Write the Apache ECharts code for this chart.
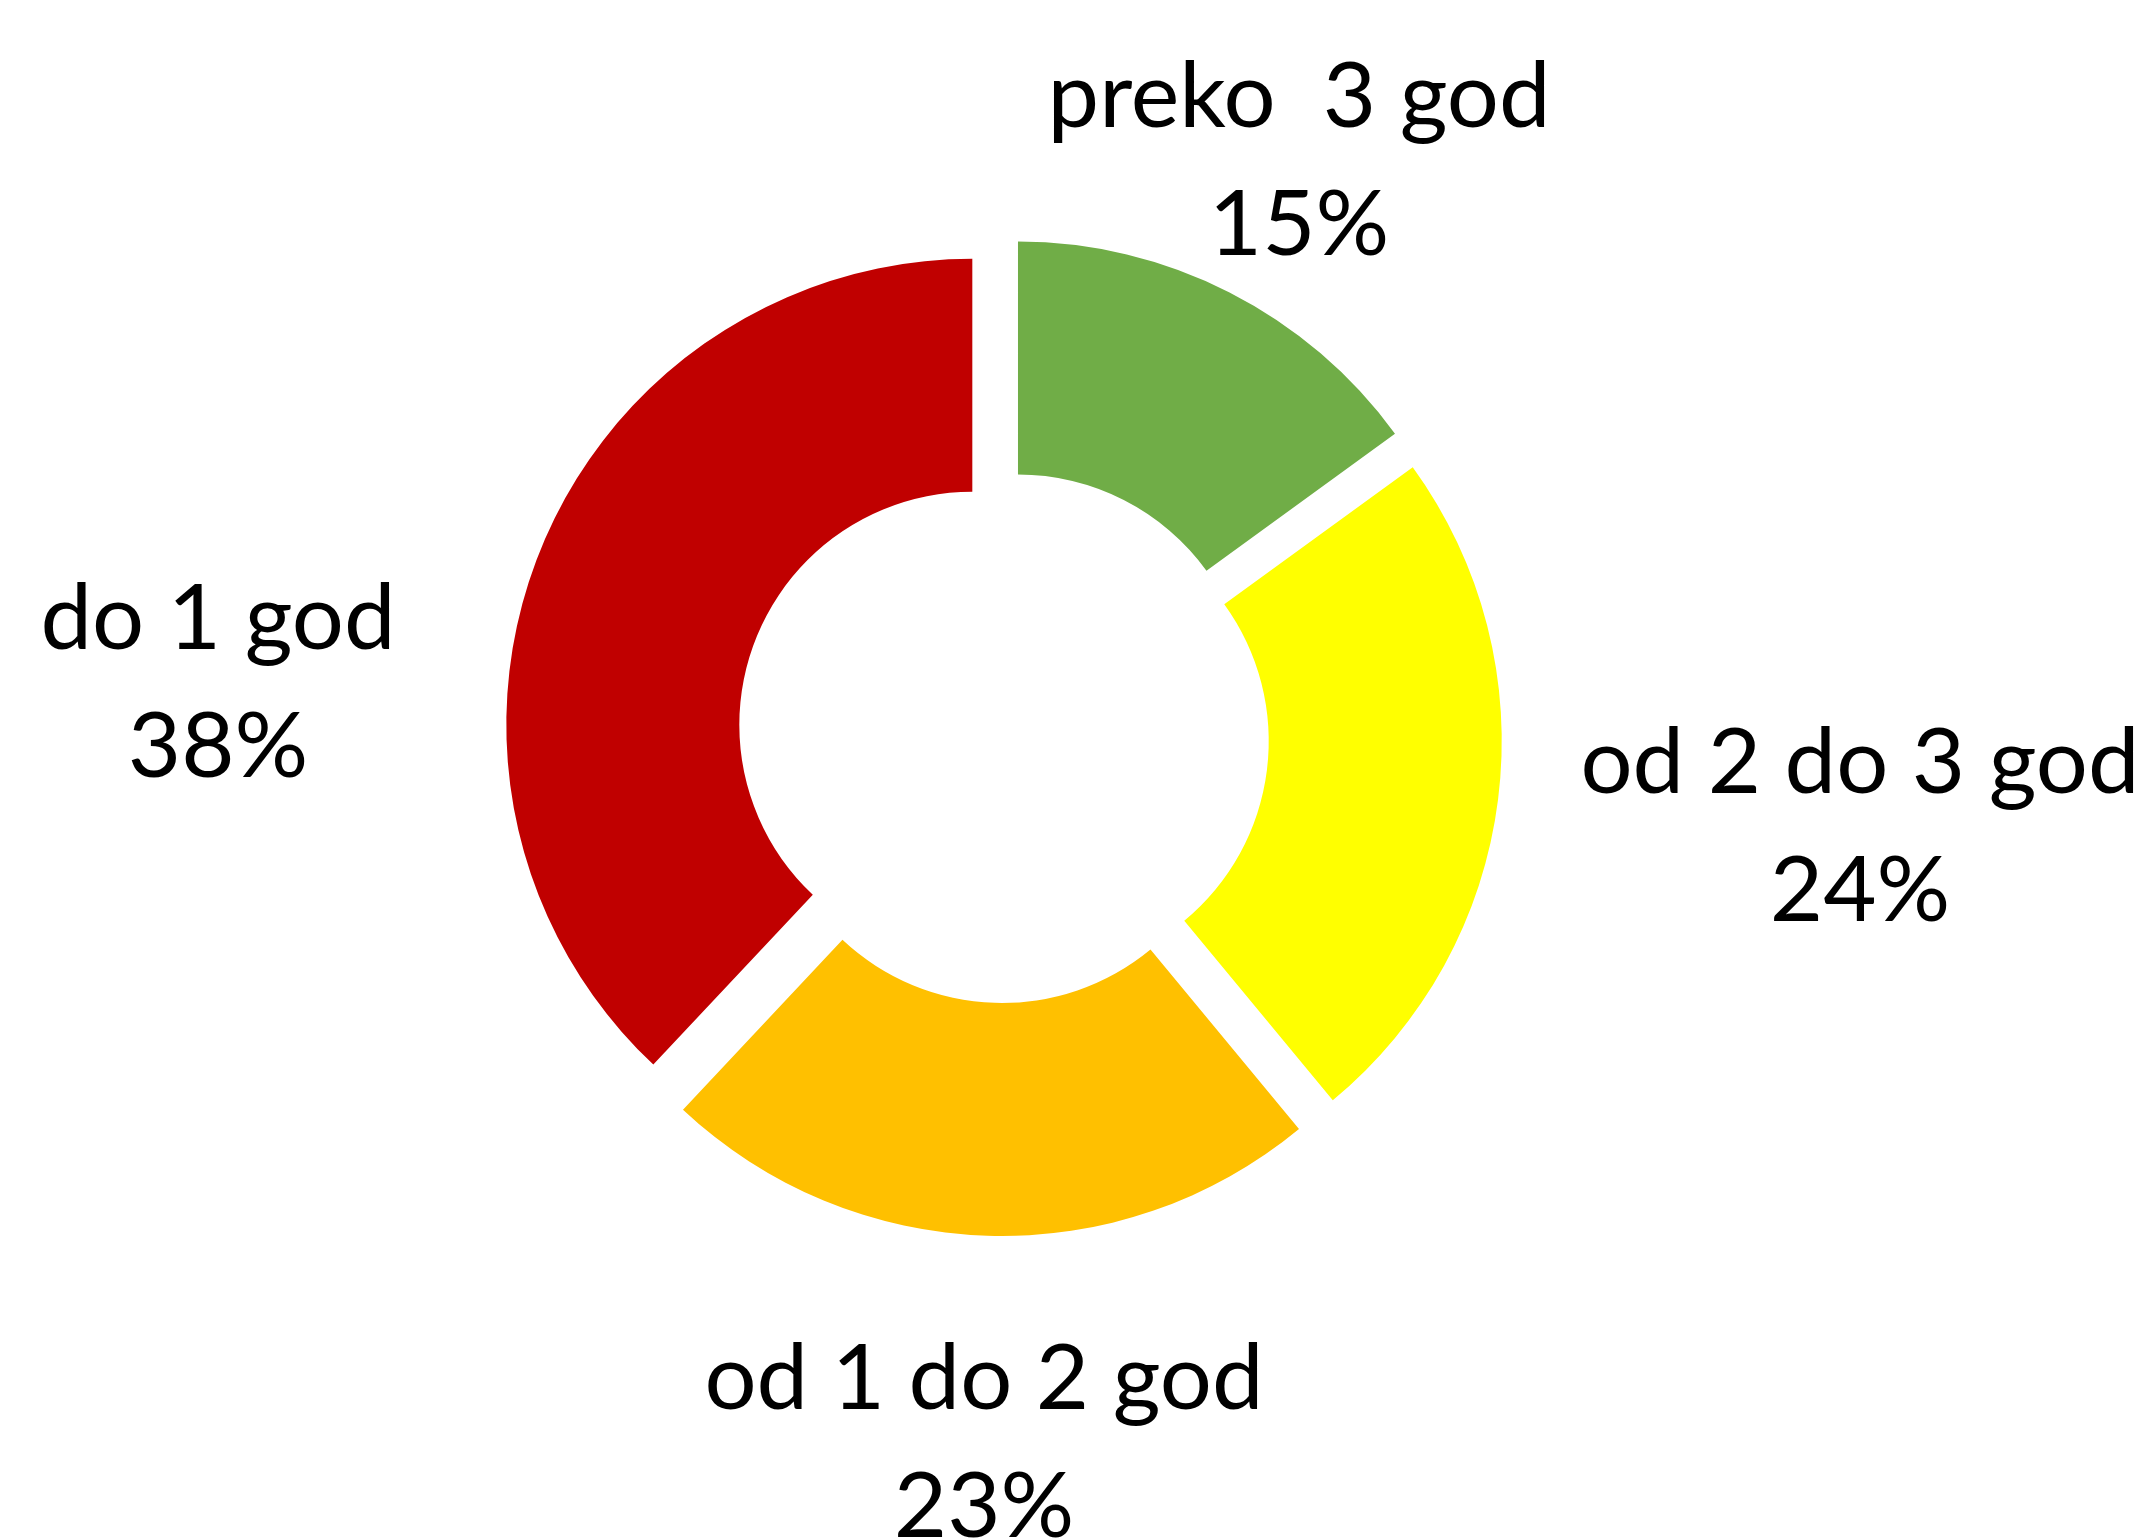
<!DOCTYPE html>
<html>
<head>
<meta charset="utf-8">
<title>Donut</title>
<script src="https://cdn.jsdelivr.net/npm/echarts@6/dist/echarts.min.js"></script>
<style>
  html, body { margin: 0; padding: 0; background: #fff; }
  #chart { width: 2147px; height: 1539px; }
</style>
</head>
<body>
<div id="chart"></div>
<script>
// categories and shares (clockwise from 12 o'clock)
const categories = ['preko  3 god', 'od 2 do 3 god', 'od 1 do 2 god', 'do 1 god']
const shares = [15, 24, 23, 38]
const colors = ['#70AD47', '#FFFF00', '#FFC000', '#C00000']

// where each two-line label block sits (center of block)
const labelPos = [
  [1299, 161],
  [1860, 827],
  [984, 1443],
  [218, 683],
]

const chart = echarts.init(document.getElementById('chart'))

const total = shares.reduce((a, b) => a + b, 0)

const seriesData = categories.map((name, i) => ({
  name: name,
  value: shares[i],
  selected: true,
  itemStyle: { color: colors[i] },
}))

// data labels (pie labelLayout x/y is not honoured here, so place them as text)
const labels = categories.map((name, i) => ({
  type: 'text',
  x: labelPos[i][0],
  y: labelPos[i][1],
  style: {
    text: name + '\n' + Math.round(shares[i] / total * 100) + '%',
    font: '92px Lato',
    lineHeight: 128,
    fill: '#000',
    align: 'center',
    verticalAlign: 'middle',
  },
}))

chart.setOption({
  animation: false,
  graphic: labels,
  series: [
    {
      type: 'pie',
      center: [1003, 737],
      radius: [233, 466],
      startAngle: 90,
      clockwise: true,
      selectedMode: 'multiple',
      selectedOffset: 33,
      emphasis: { disabled: true },
      itemStyle: { borderWidth: 0 },
      label: { show: false },
      labelLine: { show: false },
      data: seriesData,
    },
  ],
})
</script>
</body>
</html>
